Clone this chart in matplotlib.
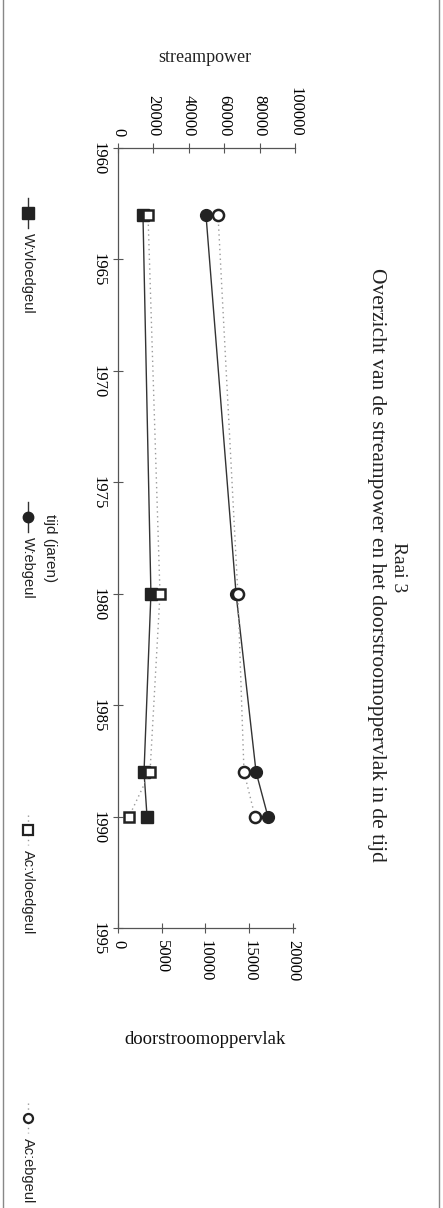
import matplotlib
matplotlib.use("Agg")
import matplotlib.pyplot as plt
from matplotlib.lines import Line2D

# ---- data ----
years = [1963, 1980, 1988, 1990]
w_vloedgeul = [14100, 18600, 14700, 16400]      # streampower
w_ebgeul = [49700, 66700, 78000, 84700]         # streampower
ac_vloedgeul = [3430, 4800, 3660, 1260]         # doorstroomoppervlak
ac_ebgeul = [11430, 13700, 14400, 15660]        # doorstroomoppervlak

year_ticks = [1960, 1965, 1970, 1975, 1980, 1985, 1990, 1995]
sp_ticks = [0, 20000, 40000, 60000, 80000, 100000]
area_ticks = [0, 5000, 10000, 15000, 20000]

W, H = 443, 1208
fig = plt.figure(figsize=(W / 100, H / 100), dpi=100)
fig.patch.set_facecolor("white")

SERIF = ["Liberation Serif", "DejaVu Serif"]
SANS = ["Liberation Sans", "DejaVu Sans"]
AX_COL = "#555555"

def fx(px):
    return px / W

def fy(py):
    return 1 - py / H

left, right, top, bottom = 118, 295, 148, 928
ax = fig.add_axes([fx(left), fy(bottom), fx(right - left), (bottom - top) / H])
ax.set_facecolor("none")
ax.set_ylim(1995, 1960)
ax.set_xlim(0, 100000)

ax2 = ax.twiny()
ax2.set_xlim(0, 20000 * (right - left) / (293 - left))

# spines
for s in ["right", "bottom"]:
    ax.spines[s].set_visible(False)
for s in ["left", "top"]:
    ax.spines[s].set_color(AX_COL)
    ax.spines[s].set_linewidth(0.9)
for s in ["right", "top", "left"]:
    ax2.spines[s].set_visible(False)
ax2.spines["bottom"].set_visible(True)
ax2.spines["bottom"].set_color(AX_COL)
ax2.spines["bottom"].set_linewidth(0.9)

ax.xaxis.tick_top()
ax.xaxis.set_label_position("top")
ax2.xaxis.tick_bottom()
ax2.xaxis.set_label_position("bottom")

TS = 12
ax.set_xticks(sp_ticks)
ax.set_xticklabels([str(v) for v in sp_ticks], rotation=270, family=SERIF, fontsize=TS)
ax.set_yticks(year_ticks)
ax.set_yticklabels([str(v) for v in year_ticks], rotation=270, family=SERIF, fontsize=TS)
ax2.set_xticks(area_ticks)
ax2.set_xticklabels([str(v) for v in area_ticks], rotation=270, family=SERIF, fontsize=TS)

ax.tick_params(axis="both", direction="inout", length=7, width=0.8, color=AX_COL, pad=5)
ax2.tick_params(axis="x", direction="inout", length=7, width=0.8, color=AX_COL, pad=5)

# series
ax.plot(w_vloedgeul, years, color="#333333", lw=1.0, marker="s", ms=9,
        mfc="#222222", mec="#222222", zorder=4)
ax.plot(w_ebgeul, years, color="#333333", lw=1.0, marker="o", ms=8.5,
        mfc="#222222", mec="#222222", zorder=4)
ax2.plot(ac_vloedgeul, years, color="#9a9a9a", lw=1.0, ls=(0, (1, 2.5)), marker="s", ms=7.5,
         mfc="white", mec="#222222", mew=1.8, zorder=5)
ax2.plot(ac_ebgeul, years, color="#9a9a9a", lw=1.0, ls=(0, (1, 2.5)), marker="o", ms=8,
         mfc="white", mec="#222222", mew=1.8, zorder=5)

# axis titles
fig.text(fx(205), fy(57), "streampower", family=SERIF, fontsize=13,
         ha="center", va="center", color="#222222")
fig.text(fx(205), fy(1040), "doorstroomoppervlak", family=SERIF, fontsize=13.5,
         ha="center", va="center", color="#111111")
fig.text(fx(50), fy(548), "tijd (jaren)", family=SANS, fontsize=11,
         rotation=270, ha="center", va="center", color="#222222")

# title
fig.text(fx(398), fy(567), "Raai 3", family=SERIF, fontsize=14,
         rotation=270, ha="center", va="center", color="#222222")
fig.text(fx(376), fy(565), "Overzicht van de streampower en het doorstroomoppervlak in de tijd",
         family=SERIF, fontsize=15.5, rotation=270, ha="center", va="center", color="#222222")

# legend (drawn manually, rotated)
leg = [
    ("W:vloedgeul", 213, dict(color="#333333", ls="-", marker="s", ms=8, mfc="#222222", mec="#222222")),
    ("W:ebgeul", 517, dict(color="#333333", ls="-", marker="o", ms=7.5, mfc="#222222", mec="#222222")),
    ("Ac:vloedgeul", 830, dict(color="#9a9a9a", ls=(0, (1, 2.5)), marker="s", ms=6.5, mfc="white", mec="#222222", mew=1.6)),
    ("Ac:ebgeul", 1118, dict(color="#9a9a9a", ls=(0, (1, 2.5)), marker="o", ms=6.5, mfc="white", mec="#222222", mew=1.6)),
]
lx = 28
for label, ly, style in leg:
    fig.add_artist(Line2D([fx(lx), fx(lx)], [fy(ly - 15), fy(ly + 15)], lw=1.0,
                          color=style["color"], ls=style["ls"], transform=fig.transFigure))
    fig.add_artist(Line2D([fx(lx)], [fy(ly)], ls="none", marker=style["marker"], ms=style["ms"],
                          mfc=style["mfc"], mec=style["mec"], mew=style.get("mew", 1.0),
                          transform=fig.transFigure))
    fig.text(fx(lx), fy(ly + 20), label, family=SANS, fontsize=10.5, rotation=270,
             ha="center", va="top", color="#222222")

# scanned page edges
fig.add_artist(Line2D([fx(3), fx(3)], [0, 1], lw=1.0, color="#888888", transform=fig.transFigure))
fig.add_artist(Line2D([fx(439), fx(439)], [0, 1], lw=1.0, color="#888888", transform=fig.transFigure))

fig.savefig("out.png", dpi=100, facecolor="white")
